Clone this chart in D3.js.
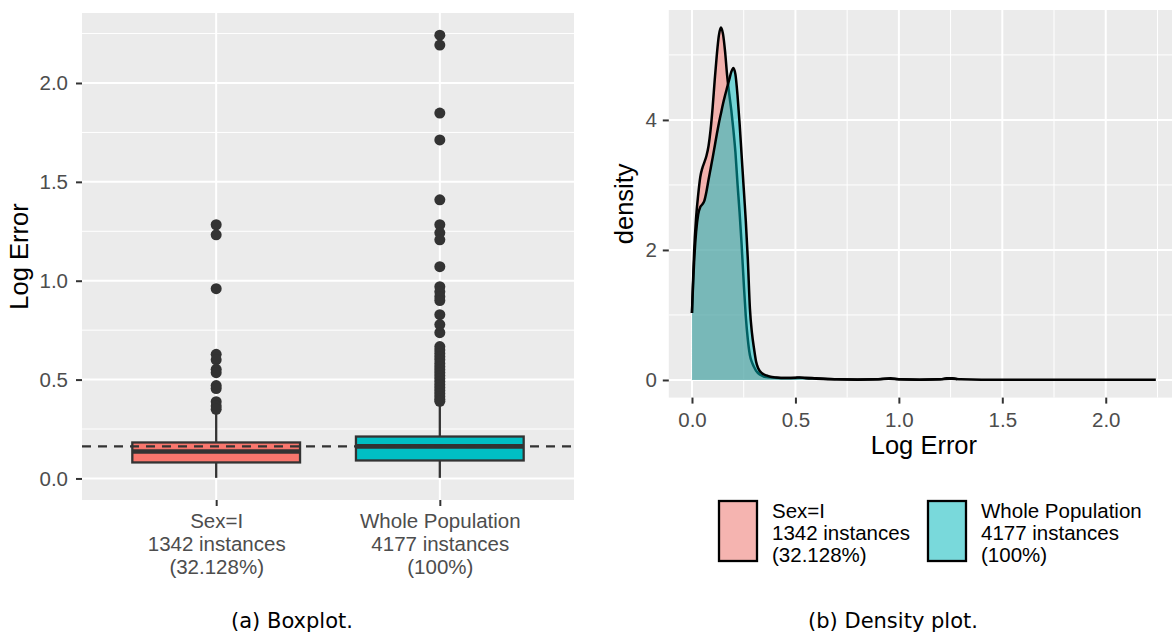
<!DOCTYPE html>
<html>
<head>
<meta charset="utf-8">
<script src="https://cdn.jsdelivr.net/npm/d3@7"></script>
<style>
  body { margin: 0; background: #ffffff; }
  svg { display: block; }
</style>
</head>
<body>
<svg id="chart" width="1172" height="635"></svg>
<script>
// ---------- data ----------
const groupLabels = [
  ["Sex=I", "1342 instances", "(32.128%)"],
  ["Whole Population", "4177 instances", "(100%)"]
];
const groupColors = ["#F8766D", "#00BFC4"];

// box statistics per group: whisker ends, quartiles, median
const boxLower  = [0.003, 0.003];
const boxQ1     = [0.081, 0.091];
const boxMedian = [0.136, 0.162];
const boxQ3     = [0.182, 0.212];
const boxUpper  = [0.33, 0.38];

const outliersSexI = [1.283, 1.232, 0.960, 0.628, 0.600, 0.552, 0.535, 0.470, 0.455,
  0.388, 0.366, 0.350];
const outliersWhole = [2.242, 2.192, 1.848, 1.712, 1.409, 1.283, 1.242, 1.207, 1.071,
  0.970, 0.944, 0.919, 0.900, 0.828, 0.778, 0.737, 0.667, 0.650, 0.632, 0.615, 0.600,
  0.582, 0.565, 0.550, 0.535, 0.520, 0.505, 0.490, 0.475, 0.460, 0.445, 0.430, 0.415,
  0.400, 0.390];

const referenceLine = 0.162;
const boxYTicks = [0, 0.5, 1, 1.5, 2];
const boxYMinor = [0.25, 0.75, 1.25, 1.75, 2.25];

// kernel density estimates of the log error
const densXSexI = [0.000, 0.005, 0.010, 0.020, 0.030, 0.040, 0.050, 0.060, 0.070, 0.080,
  0.090, 0.100, 0.110, 0.120, 0.130, 0.140, 0.150, 0.160, 0.170, 0.180, 0.190, 0.200,
  0.210, 0.220, 0.230, 0.240, 0.250, 0.260, 0.270, 0.280, 0.290, 0.300, 0.310, 0.330,
  0.350, 0.400, 0.450, 0.500, 0.550, 0.600, 0.650, 0.700, 0.800, 0.900, 0.960, 1.000,
  1.100, 1.200, 1.230, 1.260, 1.283];
const densYSexI = [1.03, 1.50, 1.95, 2.50, 2.85, 3.12, 3.26, 3.35, 3.45, 3.60,
  3.85, 4.20, 4.62, 5.00, 5.30, 5.42, 5.32, 5.05, 4.68, 4.40, 4.15, 3.85,
  3.50, 3.02, 2.58, 2.08, 1.50, 0.98, 0.62, 0.38, 0.27, 0.20, 0.14, 0.08,
  0.05, 0.035, 0.03, 0.03, 0.035, 0.025, 0.02, 0.01, 0.005, 0.01, 0.025, 0.01,
  0.004, 0.01, 0.025, 0.025, 0.012];

const densXWhole = [0.000, 0.005, 0.010, 0.020, 0.030, 0.040, 0.050, 0.060, 0.070, 0.080,
  0.090, 0.100, 0.110, 0.120, 0.130, 0.140, 0.150, 0.160, 0.170, 0.180, 0.190, 0.200,
  0.210, 0.220, 0.230, 0.240, 0.250, 0.260, 0.270, 0.280, 0.290, 0.300, 0.310, 0.320,
  0.340, 0.360, 0.380, 0.400, 0.430, 0.460, 0.500, 0.520, 0.550, 0.600, 0.700, 0.800,
  0.900, 0.950, 1.000, 1.100, 1.200, 1.250, 1.300, 1.400, 1.600, 1.800, 2.000, 2.242];
const densYWhole = [1.03, 1.45, 1.80, 2.28, 2.55, 2.66, 2.70, 2.76, 2.90, 3.08,
  3.25, 3.42, 3.60, 3.78, 3.95, 4.10, 4.25, 4.38, 4.50, 4.62, 4.74, 4.80,
  4.70, 4.38, 3.95, 3.45, 2.95, 2.45, 1.85, 1.10, 0.72, 0.48, 0.28, 0.18,
  0.10, 0.07, 0.05, 0.04, 0.03, 0.03, 0.035, 0.04, 0.025, 0.02, 0.01, 0.008,
  0.01, 0.02, 0.01, 0.005, 0.01, 0.02, 0.01, 0.005, 0.005, 0.005, 0.005, 0.005];

const densXTicks = [0, 0.5, 1, 1.5, 2];
const densXMinor = [0.25, 0.75, 1.25, 1.75, 2.25];
const densYTicks = [0, 2, 4];
const densYMinor = [1, 3, 5];

// ---------- shared styling ----------
const FONT = "'Liberation Sans', Arial, Helvetica, sans-serif";
const PANEL_BG = "#EBEBEB";
const INK = "#333333";
const TICK_TXT = "#4D4D4D";
const svg = d3.select("#chart");

function expand(lo, hi) { const d = (hi - lo) * 0.05; return [lo - d, hi + d]; }

function styleAxis(g, size) {
  g.select(".domain").remove();
  g.selectAll(".tick line").attr("stroke", INK).attr("stroke-width", 2);
  g.selectAll(".tick text").attr("fill", TICK_TXT)
    .style("font-family", FONT).style("font-size", size + "px");
}

// ---------- (a) boxplot ----------
const bp = { left: 82, right: 574, top: 13, bottom: 500 };
const allOut = outliersSexI.concat(outliersWhole);
const bY = d3.scaleLinear()
  .domain(expand(d3.min(boxLower), d3.max(allOut)))
  .range([bp.bottom, bp.top]);
const bX = d3.scaleLinear().domain([0.4, 2.6]).range([bp.left, bp.right]);

svg.append("rect").attr("x", bp.left).attr("y", bp.top)
  .attr("width", bp.right - bp.left).attr("height", bp.bottom - bp.top).attr("fill", PANEL_BG);
const bGrid = svg.append("g");
bGrid.selectAll(".mn").data(boxYMinor.filter(v => bY(v) > bp.top)).join("line")
  .attr("x1", bp.left).attr("x2", bp.right)
  .attr("y1", d => bY(d)).attr("y2", d => bY(d))
  .attr("stroke", "#fff").attr("stroke-width", 1);
bGrid.selectAll(".mj").data(boxYTicks).join("line")
  .attr("x1", bp.left).attr("x2", bp.right)
  .attr("y1", d => bY(d)).attr("y2", d => bY(d))
  .attr("stroke", "#fff").attr("stroke-width", 2);
bGrid.selectAll(".vx").data([1, 2]).join("line")
  .attr("x1", d => bX(d)).attr("x2", d => bX(d))
  .attr("y1", bp.top).attr("y2", bp.bottom)
  .attr("stroke", "#fff").attr("stroke-width", 2);

const boxW = 0.75;
const outlierSets = [outliersSexI, outliersWhole];
const boxes = svg.append("g");
groupLabels.forEach((lab, i) => {
  const cx = bX(i + 1);
  const g = boxes.append("g");
  g.selectAll("circle").data(outlierSets[i]).join("circle")
    .attr("cx", cx).attr("cy", d => bY(d)).attr("r", 5.5).attr("fill", INK);
  g.append("line").attr("x1", cx).attr("x2", cx)
    .attr("y1", bY(boxQ3[i])).attr("y2", bY(boxUpper[i]))
    .attr("stroke", INK).attr("stroke-width", 2.3);
  g.append("line").attr("x1", cx).attr("x2", cx)
    .attr("y1", bY(boxQ1[i])).attr("y2", bY(boxLower[i]))
    .attr("stroke", INK).attr("stroke-width", 2.3);
  g.append("rect")
    .attr("x", bX(i + 1 - boxW / 2)).attr("width", bX(i + 1 + boxW / 2) - bX(i + 1 - boxW / 2))
    .attr("y", bY(boxQ3[i])).attr("height", bY(boxQ1[i]) - bY(boxQ3[i]))
    .attr("fill", groupColors[i]).attr("stroke", INK).attr("stroke-width", 2.3);
  g.append("line")
    .attr("x1", bX(i + 1 - boxW / 2)).attr("x2", bX(i + 1 + boxW / 2))
    .attr("y1", bY(boxMedian[i])).attr("y2", bY(boxMedian[i]))
    .attr("stroke", INK).attr("stroke-width", 4.6);
});

// reference line at the overall median
svg.append("line")
  .attr("x1", bp.left).attr("x2", bp.right)
  .attr("y1", bY(referenceLine)).attr("y2", bY(referenceLine))
  .attr("stroke", INK).attr("stroke-width", 2.2).attr("stroke-dasharray", "9,7");

// axes
const bAxisY = svg.append("g").attr("transform", `translate(${bp.left},0)`)
  .call(d3.axisLeft(bY).tickValues(boxYTicks).tickFormat(d3.format(".1f")).tickSize(6).tickPadding(8));
styleAxis(bAxisY, 20.5);

const bAxisX = svg.append("g").attr("transform", `translate(0,${bp.bottom})`)
  .call(d3.axisBottom(bX).tickValues([1, 2]).tickFormat("").tickSize(6));
styleAxis(bAxisX, 20.5);
bAxisX.selectAll(".tick").each(function (d) {
  const t = d3.select(this).append("text")
    .attr("fill", TICK_TXT).attr("text-anchor", "middle")
    .style("font-family", FONT).style("font-size", "20.5px");
  groupLabels[d - 1].forEach((line, k) => {
    t.append("tspan").attr("x", 0).attr("y", 28 + k * 23).text(line);
  });
});

svg.append("text")
  .attr("transform", `translate(28,${(bp.top + bp.bottom) / 2}) rotate(-90)`)
  .attr("text-anchor", "middle").attr("fill", "#000")
  .style("font-family", FONT).style("font-size", "25.5px").text("Log Error");

// ---------- (b) density plot ----------
const dp = { left: 668.8, right: 1179, top: 10, bottom: 397.6 };
const dX = d3.scaleLinear()
  .domain(expand(0, d3.max(densXWhole)))
  .range([dp.left, dp.right]);
const dY = d3.scaleLinear()
  .domain(expand(0, d3.max(densYSexI.concat(densYWhole))))
  .range([dp.bottom, dp.top]);

svg.append("rect").attr("x", dp.left).attr("y", dp.top)
  .attr("width", dp.right - dp.left).attr("height", dp.bottom - dp.top).attr("fill", PANEL_BG);
const dGrid = svg.append("g");
dGrid.selectAll(".mnx").data(densXMinor).join("line")
  .attr("x1", d => dX(d)).attr("x2", d => dX(d)).attr("y1", dp.top).attr("y2", dp.bottom)
  .attr("stroke", "#fff").attr("stroke-width", 1);
dGrid.selectAll(".mny").data(densYMinor).join("line")
  .attr("y1", d => dY(d)).attr("y2", d => dY(d)).attr("x1", dp.left).attr("x2", dp.right)
  .attr("stroke", "#fff").attr("stroke-width", 1);
dGrid.selectAll(".mjx").data(densXTicks).join("line")
  .attr("x1", d => dX(d)).attr("x2", d => dX(d)).attr("y1", dp.top).attr("y2", dp.bottom)
  .attr("stroke", "#fff").attr("stroke-width", 2);
dGrid.selectAll(".mjy").data(densYTicks).join("line")
  .attr("y1", d => dY(d)).attr("y2", d => dY(d)).attr("x1", dp.left).attr("x2", dp.right)
  .attr("stroke", "#fff").attr("stroke-width", 2);

const series = [
  { xs: densXSexI, ys: densYSexI, color: groupColors[0] },
  { xs: densXWhole, ys: densYWhole, color: groupColors[1] }
];
const area = d3.area().x(d => dX(d[0])).y0(dY(0)).y1(d => dY(d[1])).curve(d3.curveMonotoneX);
const line = d3.line().x(d => dX(d[0])).y(d => dY(d[1])).curve(d3.curveMonotoneX);
series.forEach(s => {
  const pts = s.xs.map((x, i) => [x, s.ys[i]]);
  svg.append("path").attr("d", area(pts)).attr("fill", s.color).attr("fill-opacity", 0.5);
  svg.append("path").attr("d", line(pts)).attr("fill", "none")
    .attr("stroke", "#000").attr("stroke-width", 2.5).attr("stroke-linejoin", "round");
});

const dAxisY = svg.append("g").attr("transform", `translate(${dp.left},0)`)
  .call(d3.axisLeft(dY).tickValues(densYTicks).tickFormat(d3.format("d")).tickSize(6).tickPadding(6));
styleAxis(dAxisY, 20.5);
const dAxisX = svg.append("g").attr("transform", `translate(0,${dp.bottom})`)
  .call(d3.axisBottom(dX).tickValues(densXTicks).tickFormat(d3.format(".1f")).tickSize(6).tickPadding(9));
styleAxis(dAxisX, 20.5);

svg.append("text")
  .attr("x", (dp.left + dp.right) / 2).attr("y", 454)
  .attr("text-anchor", "middle").attr("fill", "#000")
  .style("font-family", FONT).style("font-size", "25.5px").text("Log Error");
svg.append("text")
  .attr("transform", `translate(633,${(dp.top + dp.bottom) / 2}) rotate(-90)`)
  .attr("text-anchor", "middle").attr("fill", "#000")
  .style("font-family", FONT).style("font-size", "25.5px").text("density");

// legend
const legendX = [718, 927];
groupLabels.forEach((lab, i) => {
  const g = svg.append("g").attr("transform", `translate(${legendX[i]},500)`);
  g.append("rect").attr("width", 40).attr("height", 62).attr("fill", "#F2F2F2");
  g.append("rect").attr("x", 1).attr("y", 1).attr("width", 38).attr("height", 60)
    .attr("fill", groupColors[i]).attr("fill-opacity", 0.5)
    .attr("stroke", "#000").attr("stroke-width", 2.3);
  const t = g.append("text").attr("fill", "#000")
    .style("font-family", FONT).style("font-size", "20.5px");
  lab.forEach((line, k) => {
    t.append("tspan").attr("x", 54).attr("y", 18 + k * 22).text(line);
  });
});

// captions
const CAP_FONT = "'DejaVu Sans', sans-serif";
svg.append("text").attr("x", 292).attr("y", 628).attr("text-anchor", "middle")
  .attr("fill", "#000").style("font-family", CAP_FONT).style("font-size", "21px")
  .text("(a) Boxplot.");
svg.append("text").attr("x", 893).attr("y", 628).attr("text-anchor", "middle")
  .attr("fill", "#000").style("font-family", CAP_FONT).style("font-size", "21px")
  .text("(b) Density plot.");
</script>
</body>
</html>
